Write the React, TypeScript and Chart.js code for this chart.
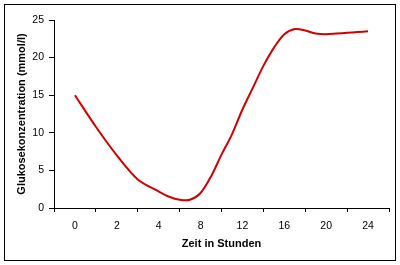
import React, { useEffect, useRef } from "react";
import { Chart, registerables } from "chart.js";

Chart.register(...registerables);

// Axis tick labels (hours) as printed under the x axis
const xTickHours = [0, 2, 4, 8, 12, 16, 20, 24];
const yTicks = [0, 5, 10, 15, 20, 25];

// Measured glucose concentration per hour
const hours = [0, 1, 2, 3, 4, 5, 6, 7, 8, 9, 10, 11, 12, 13, 14, 15, 16, 17, 18, 19, 20, 21, 22, 23, 24];
const glucose = [15.0, 10.8, 7.0, 3.8, 2.2, 1.5, 1.1, 1.1, 2.0, 4.2, 7.1, 9.8, 13.1, 16.0, 18.9, 21.3, 23.1, 23.8, 23.6, 23.2, 23.1, 23.2, 23.3, 23.4, 23.5];

const xTitle = "Zeit in Stunden";
const yTitle = "Glukosekonzentration (mmol/l)";

// The x axis places its printed labels at equal distances; map hours onto that axis.
function hourToPos(h: number): number {
  for (let i = 0; i < xTickHours.length - 1; i++) {
    const a = xTickHours[i];
    const b = xTickHours[i + 1];
    if (h <= b) return i + (h - a) / (b - a);
  }
  return xTickHours.length - 1;
}

const frame = {
  id: "frame",
  afterDraw(chart: any) {
    const ctx = chart.ctx;
    ctx.save();
    ctx.strokeStyle = "#000";
    ctx.lineWidth = 1;
    ctx.strokeRect(4.5, 4.5, 391, 256);
    ctx.restore();
  },
};

export default function App() {
  const ref = useRef<HTMLCanvasElement>(null);
  useEffect(() => {
    if (!ref.current) return;
    const chart = new Chart(ref.current, {
      type: "line",
      data: {
        datasets: [
          {
            data: hours.map((h, i) => ({ x: hourToPos(h), y: glucose[i] })),
            borderColor: "#d20000",
            borderWidth: 2,
            pointRadius: 0,
            tension: 0.3,
            fill: false,
          },
        ],
      },
      options: {
        animation: false,
        responsive: false,
        devicePixelRatio: 1,
        layout: { padding: { top: 20, right: 11, left: 0, bottom: 0 } },
        plugins: { legend: { display: false }, tooltip: { enabled: false } },
        scales: {
          x: {
            type: "linear",
            min: -0.5,
            max: xTickHours.length - 0.5,
            afterBuildTicks: (scale: any) => {
              scale.ticks = xTickHours.map((_, i) => ({ value: i }));
            },
            afterFit: (scale: any) => {
              scale.height = 57;
            },
            grid: {
              offset: true,
              drawOnChartArea: false,
              color: "#000",
              tickLength: 4,
              tickWidth: 1,
            },
            border: { color: "#000", width: 1 },
            ticks: {
              autoSkip: false,
              maxRotation: 0,
              padding: 8,
              color: "#000",
              font: { family: "Liberation Sans, Arial, sans-serif", size: 10.5 },
              callback: (v: any) => String(xTickHours[Math.round(Number(v))] ?? ""),
            },
            title: {
              display: true,
              text: xTitle,
              color: "#000",
              font: { family: "Liberation Sans, Arial, sans-serif", size: 11, weight: "bold" },
              padding: { top: 0, bottom: 14 },
            },
          },
          y: {
            type: "linear",
            min: yTicks[0],
            max: yTicks[yTicks.length - 1],
            afterBuildTicks: (scale: any) => {
              scale.ticks = yTicks.map((v) => ({ value: v }));
            },
            afterFit: (scale: any) => {
              scale.width = 54;
            },
            grid: {
              drawOnChartArea: false,
              color: "#000",
              tickLength: 5,
              tickWidth: 1,
            },
            border: { color: "#000", width: 1 },
            ticks: {
              padding: 5,
              color: "#000",
              font: { family: "Liberation Sans, Arial, sans-serif", size: 10.5 },
            },
            title: {
              display: true,
              text: yTitle,
              color: "#000",
              font: { family: "Liberation Sans, Arial, sans-serif", size: 11, weight: "bold" },
              padding: { top: 15, bottom: 0 },
            },
          },
        },
      },
      plugins: [frame],
    });
    return () => chart.destroy();
  }, []);
  return (
    <div style={{ position: "absolute", left: 0, top: 0, width: 400, height: 265, background: "#fff" }}>
      <canvas ref={ref} width={400} height={265} style={{ display: "block" }} />
    </div>
  );
}
